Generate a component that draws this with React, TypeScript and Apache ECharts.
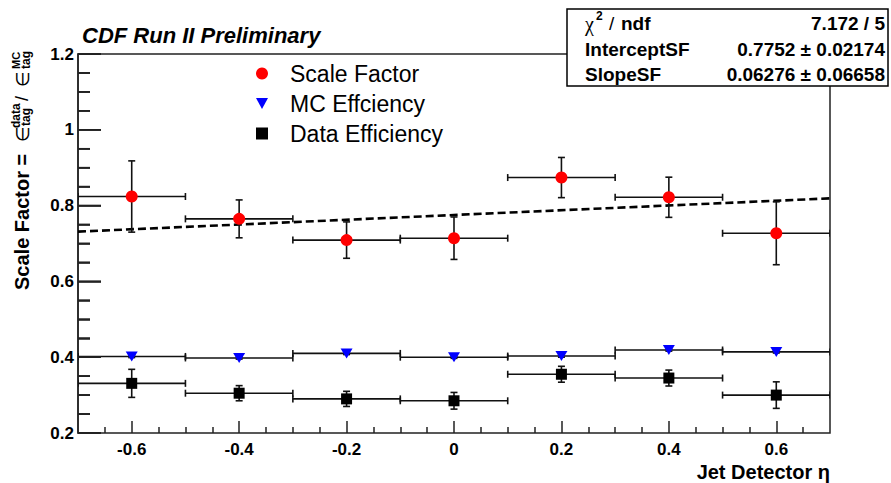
import React, { useEffect, useRef } from 'react';
import * as echarts from 'echarts';

// ---- data ----
const ETA = [-0.6, -0.4, -0.2, 0, 0.2, 0.4, 0.6];
const ETA_ERR = [0.1, 0.1, 0.1, 0.1, 0.1, 0.1, 0.1];

const SCALE_FACTOR = [0.824, 0.765, 0.709, 0.714, 0.874, 0.822, 0.727];
const SCALE_FACTOR_ERR = [0.094, 0.05, 0.048, 0.056, 0.053, 0.053, 0.083];

const MC_EFF = [0.402, 0.398, 0.41, 0.4, 0.403, 0.419, 0.414];
const MC_EFF_ERR = [0.003, 0.003, 0.003, 0.003, 0.003, 0.003, 0.003];

const DATA_EFF = [0.331, 0.305, 0.29, 0.285, 0.355, 0.345, 0.3];
const DATA_EFF_ERR = [0.037, 0.02, 0.02, 0.022, 0.021, 0.021, 0.035];

const FIT_INTERCEPT = 0.7752;
const FIT_SLOPE = 0.06276;

const X_MIN = -0.7;
const X_MAX = 0.7;
const Y_MIN = 0.2;
const Y_MAX = 1.2;

const X_MAJOR_TICKS = [-0.6, -0.4, -0.2, 0, 0.2, 0.4, 0.6];
const X_MINOR_TICKS = [-0.65, -0.55, -0.5, -0.45, -0.35, -0.3, -0.25, -0.15, -0.1, -0.05, 0.05, 0.1, 0.15, 0.25, 0.3, 0.35, 0.45, 0.5, 0.55, 0.65];
const Y_MAJOR_TICKS = [0.2, 0.4, 0.6, 0.8, 1, 1.2];
const Y_MINOR_TICKS = [0.25, 0.3, 0.35, 0.45, 0.5, 0.55, 0.65, 0.7, 0.75, 0.85, 0.9, 0.95, 1.05, 1.1, 1.15];
const Y_MAJOR_LEN = 23;
const Y_MINOR_LEN = 12;

const STATS_ROWS = [
  ['InterceptSF', '0.7752 \u00b1 0.02174'],
  ['SlopeSF', '0.06276 \u00b1 0.06658'],
];
const CHI2_TEXT = '7.172 / 5';

const FONT = '"Liberation Sans", Arial, Helvetica, sans-serif';

function errorSeries(name: string, vals: number[], errs: number[]) {
  return {
    type: 'custom',
    name,
    xAxisIndex: 0,
    yAxisIndex: 0,
    z: 3,
    clip: true,
    encode: { x: 0, y: 1 },
    data: ETA.map((x, i) => [x, vals[i], ETA_ERR[i], errs[i]]),
    renderItem: (params: any, api: any) => {
      const x = api.value(0);
      const y = api.value(1);
      const xe = api.value(2);
      const ye = api.value(3);
      const c = api.coord([x, y]);
      const l = api.coord([x - xe, y]);
      const r = api.coord([x + xe, y]);
      const t = api.coord([x, y + ye]);
      const b = api.coord([x, y - ye]);
      const cap = 3.5;
      const style = { stroke: '#111', lineWidth: 1.6, fill: null };
      const ln = (x1: number, y1: number, x2: number, y2: number) => ({
        type: 'line',
        shape: { x1, y1, x2, y2 },
        style,
      });
      return {
        type: 'group',
        children: [
          ln(l[0], c[1], r[0], c[1]),
          ln(l[0], c[1] - cap, l[0], c[1] + cap),
          ln(r[0], c[1] - cap, r[0], c[1] + cap),
          ln(c[0], t[1], c[0], b[1]),
          ln(c[0] - cap, t[1], c[0] + cap, t[1]),
          ln(c[0] - cap, b[1], c[0] + cap, b[1]),
        ],
      };
    },
  };
}

// y ticks drawn like the error bars (same kind of custom series), through the y scale
function yTickSeries() {
  const ticks = [
    ...Y_MAJOR_TICKS.map((v) => [X_MIN, v, Y_MAJOR_LEN, 0]),
    ...Y_MINOR_TICKS.map((v) => [X_MIN, v, Y_MINOR_LEN, 0]),
  ];
  return {
    type: 'custom',
    name: 'y-ticks',
    xAxisIndex: 0,
    yAxisIndex: 0,
    z: 3,
    clip: true,
    encode: { x: 0, y: 1 },
    data: ticks,
    renderItem: (params: any, api: any) => {
      const p = api.coord([api.value(0), api.value(1)]);
      const len = api.value(2);
      return {
        type: 'group',
        children: [
          {
            type: 'line',
            shape: { x1: p[0], y1: p[1], x2: p[0] + len, y2: p[1] },
            style: { stroke: '#222', lineWidth: 1.6, fill: null },
          },
        ],
      };
    },
  };
}

const TRI_DOWN = 'path://M0,0L10,0L5,9Z';

export default function App() {
  const ref = useRef<HTMLDivElement>(null);

  useEffect(() => {
    if (!ref.current) return;
    const chart = echarts.init(ref.current, undefined, { renderer: 'svg' });

    const tickLine = { color: '#222', width: 1.5 };

    const baseGraphics: any[] = [
      {
        type: 'text',
        x: 82,
        y: 35,
        style: {
          text: 'CDF Run II Preliminary',
          font: 'italic bold 22px ' + FONT,
          fill: '#000',
          align: 'left',
          verticalAlign: 'middle',
        },
      },
      {
        type: 'text',
        x: 830,
        y: 472,
        style: {
          text: 'Jet Detector \u03b7',
          font: 'bold 20px ' + FONT,
          fill: '#000',
          align: 'right',
          verticalAlign: 'middle',
        },
      },
      // y-axis title
      {
        type: 'group',
        x: 22,
        y: 290,
        rotation: Math.PI / 2,
        children: [
          { type: 'text', x: 0, y: 0, style: { text: 'Scale Factor =', font: 'bold 20px ' + FONT, fill: '#000', align: 'left', verticalAlign: 'middle' } },
          { type: 'text', x: 148, y: 0, style: { text: '\u2208', font: '18px "DejaVu Sans", ' + FONT, fill: '#000', align: 'left', verticalAlign: 'middle' } },
          { type: 'text', x: 162, y: -6, style: { text: 'data', font: 'bold 12px ' + FONT, fill: '#000', align: 'left', verticalAlign: 'middle' } },
          { type: 'text', x: 164, y: 4, style: { text: 'tag', font: 'bold 12px ' + FONT, fill: '#000', align: 'left', verticalAlign: 'middle' } },
          { type: 'text', x: 189, y: 0, style: { text: '/', font: '18px ' + FONT, fill: '#000', align: 'left', verticalAlign: 'middle' } },
          { type: 'text', x: 203, y: 0, style: { text: '\u2208', font: '18px "DejaVu Sans", ' + FONT, fill: '#000', align: 'left', verticalAlign: 'middle' } },
          { type: 'text', x: 221, y: -6, style: { text: 'MC', font: 'bold 11px ' + FONT, fill: '#000', align: 'left', verticalAlign: 'middle' } },
          { type: 'text', x: 221, y: 4, style: { text: 'tag', font: 'bold 12px ' + FONT, fill: '#000', align: 'left', verticalAlign: 'middle' } },
        ],
      },
      // stats box
      { type: 'rect', z: 100, shape: { x: 567, y: 9, width: 321, height: 77 }, style: { fill: '#fff', stroke: '#000', lineWidth: 1.5 } },
      { type: 'text', z: 101, x: 585, y: 24, style: { text: '\u03c7', font: '20px "Liberation Serif", serif', fill: '#000', align: 'left', verticalAlign: 'middle' } },
      { type: 'text', z: 101, x: 596, y: 16, style: { text: '2', font: 'bold 12px ' + FONT, fill: '#000', align: 'left', verticalAlign: 'middle' } },
      { type: 'text', z: 101, x: 609, y: 23, style: { text: '/', font: '19px ' + FONT, fill: '#000', align: 'left', verticalAlign: 'middle' } },
      { type: 'text', z: 101, x: 621, y: 23, style: { text: 'ndf', font: 'bold 19px ' + FONT, fill: '#000', align: 'left', verticalAlign: 'middle' } },
      { type: 'text', z: 101, x: 885, y: 23, style: { text: CHI2_TEXT, font: 'bold 19px ' + FONT, fill: '#000', align: 'right', verticalAlign: 'middle' } },
      ...STATS_ROWS.flatMap((row, i) => [
        { type: 'text', z: 101, x: 585, y: 49 + i * 25.5, style: { text: row[0], font: 'bold 19px ' + FONT, fill: '#000', align: 'left', verticalAlign: 'middle' } },
        { type: 'text', z: 101, x: 885, y: 49 + i * 25.5, style: { text: row[1], font: 'bold 19px ' + FONT, fill: '#000', align: 'right', verticalAlign: 'middle' } },
      ]),
    ];

    const option: any = {
      animation: false,
      backgroundColor: '#ffffff',
      textStyle: { fontFamily: FONT },
      grid: {
        left: 78,
        right: 61,
        top: 54,
        bottom: 50,
        show: true,
        borderColor: '#222',
        borderWidth: 1.5,
        backgroundColor: 'transparent',
      },
      xAxis: [
        {
          type: 'value',
          min: X_MIN,
          max: X_MAX,
          position: 'bottom',
          axisLine: { show: false, onZero: false },
          splitLine: { show: false },
          axisTick: { show: true, inside: true, length: 12, customValues: X_MAJOR_TICKS, lineStyle: tickLine },
          axisLabel: { customValues: X_MAJOR_TICKS, fontSize: 17, fontWeight: 'bold', color: '#000', margin: 8, fontFamily: FONT },
        },
        {
          type: 'value',
          min: X_MIN,
          max: X_MAX,
          position: 'bottom',
          axisLine: { show: false, onZero: false },
          splitLine: { show: false },
          axisTick: { show: true, inside: true, length: 6, customValues: X_MINOR_TICKS, lineStyle: { color: '#222', width: 1.5 } },
          axisLabel: { show: false },
        },
      ],
      yAxis: [
        {
          type: 'value',
          min: Y_MIN,
          max: Y_MAX,
          position: 'left',
          axisLine: { show: true, onZero: false, lineStyle: { color: '#222', width: 1.5 } },
          splitLine: { show: false },
          axisTick: { show: true, inside: true, length: Y_MAJOR_LEN, customValues: Y_MAJOR_TICKS, lineStyle: { color: '#222', width: 1.5 } },
          minorTick: { show: true, splitNumber: 4, length: Y_MINOR_LEN, lineStyle: { color: '#222', width: 1.5 } },
          axisLabel: { customValues: Y_MAJOR_TICKS, fontSize: 17, fontWeight: 'bold', color: '#000', margin: 4, fontFamily: FONT },
        },
      ],
      legend: {
        orient: 'vertical',
        left: 251,
        top: 57,
        itemWidth: 12,
        itemHeight: 12,
        itemGap: 7,
        textStyle: { fontSize: 23, lineHeight: 23, color: '#000', fontFamily: FONT, padding: [0, 0, 0, 17] },
        data: [
          { name: 'Scale Factor', icon: 'circle' },
          { name: 'MC Effciency', icon: TRI_DOWN },
          { name: 'Data Efficiency', icon: 'rect' },
        ],
        selectedMode: false,
      },
      series: [
        {
          type: 'line',
          name: 'fit',
          xAxisIndex: 0,
          yAxisIndex: 0,
          z: 2,
          symbol: 'none',
          data: [X_MIN, X_MAX].map((x) => [x, FIT_INTERCEPT + FIT_SLOPE * x]),
          lineStyle: { color: '#000', width: 2.6, type: [8, 4] },
        },
        errorSeries('sf-err', SCALE_FACTOR, SCALE_FACTOR_ERR),
        errorSeries('mc-err', MC_EFF, MC_EFF_ERR),
        errorSeries('data-err', DATA_EFF, DATA_EFF_ERR),
        yTickSeries(),
        {
          type: 'scatter',
          name: 'Scale Factor',
          z: 5,
          symbol: 'circle',
          symbolSize: 12,
          itemStyle: { color: '#ff0000', opacity: 1 },
          data: ETA.map((x, i) => [x, SCALE_FACTOR[i]]),
        },
        {
          type: 'scatter',
          name: 'MC Effciency',
          z: 5,
          symbol: TRI_DOWN,
          symbolSize: [12, 10],
          itemStyle: { color: '#0000ff', opacity: 1 },
          data: ETA.map((x, i) => [x, MC_EFF[i]]),
        },
        {
          type: 'scatter',
          name: 'Data Efficiency',
          z: 5,
          symbol: 'rect',
          symbolSize: 11,
          itemStyle: { color: '#000000', opacity: 1 },
          data: ETA.map((x, i) => [x, DATA_EFF[i]]),
        },
      ],
      graphic: baseGraphics,
    };

    chart.setOption(option);

    // fallback: the same y ticks as graphic lines, placed through the axes' own conversion
    const tickDefs: [number, number][] = [
      ...Y_MAJOR_TICKS.map((v) => [v, Y_MAJOR_LEN] as [number, number]),
      ...Y_MINOR_TICKS.map((v) => [v, Y_MINOR_LEN] as [number, number]),
    ];
    const tickGraphics: any[] = [];
    tickDefs.forEach(([v, len]) => {
      const px = chart.convertToPixel({ xAxisIndex: 0 }, X_MIN) as any;
      const py = chart.convertToPixel({ yAxisIndex: 0 }, v) as any;
      if (typeof px === 'number' && typeof py === 'number' && isFinite(px) && isFinite(py)) {
        tickGraphics.push({
          type: 'line',
          z: 60,
          shape: { x1: px, y1: py, x2: px + len, y2: py },
          style: { stroke: '#222', lineWidth: 1.5 },
        });
      }
    });
    if (tickGraphics.length) {
      chart.setOption({ graphic: [...baseGraphics, ...tickGraphics] });
    }

    return () => chart.dispose();
  }, []);

  return (
    <div
      ref={ref}
      style={{ position: 'fixed', left: 0, top: 0, width: 891, height: 483, background: '#fff' }}
    />
  );
}
